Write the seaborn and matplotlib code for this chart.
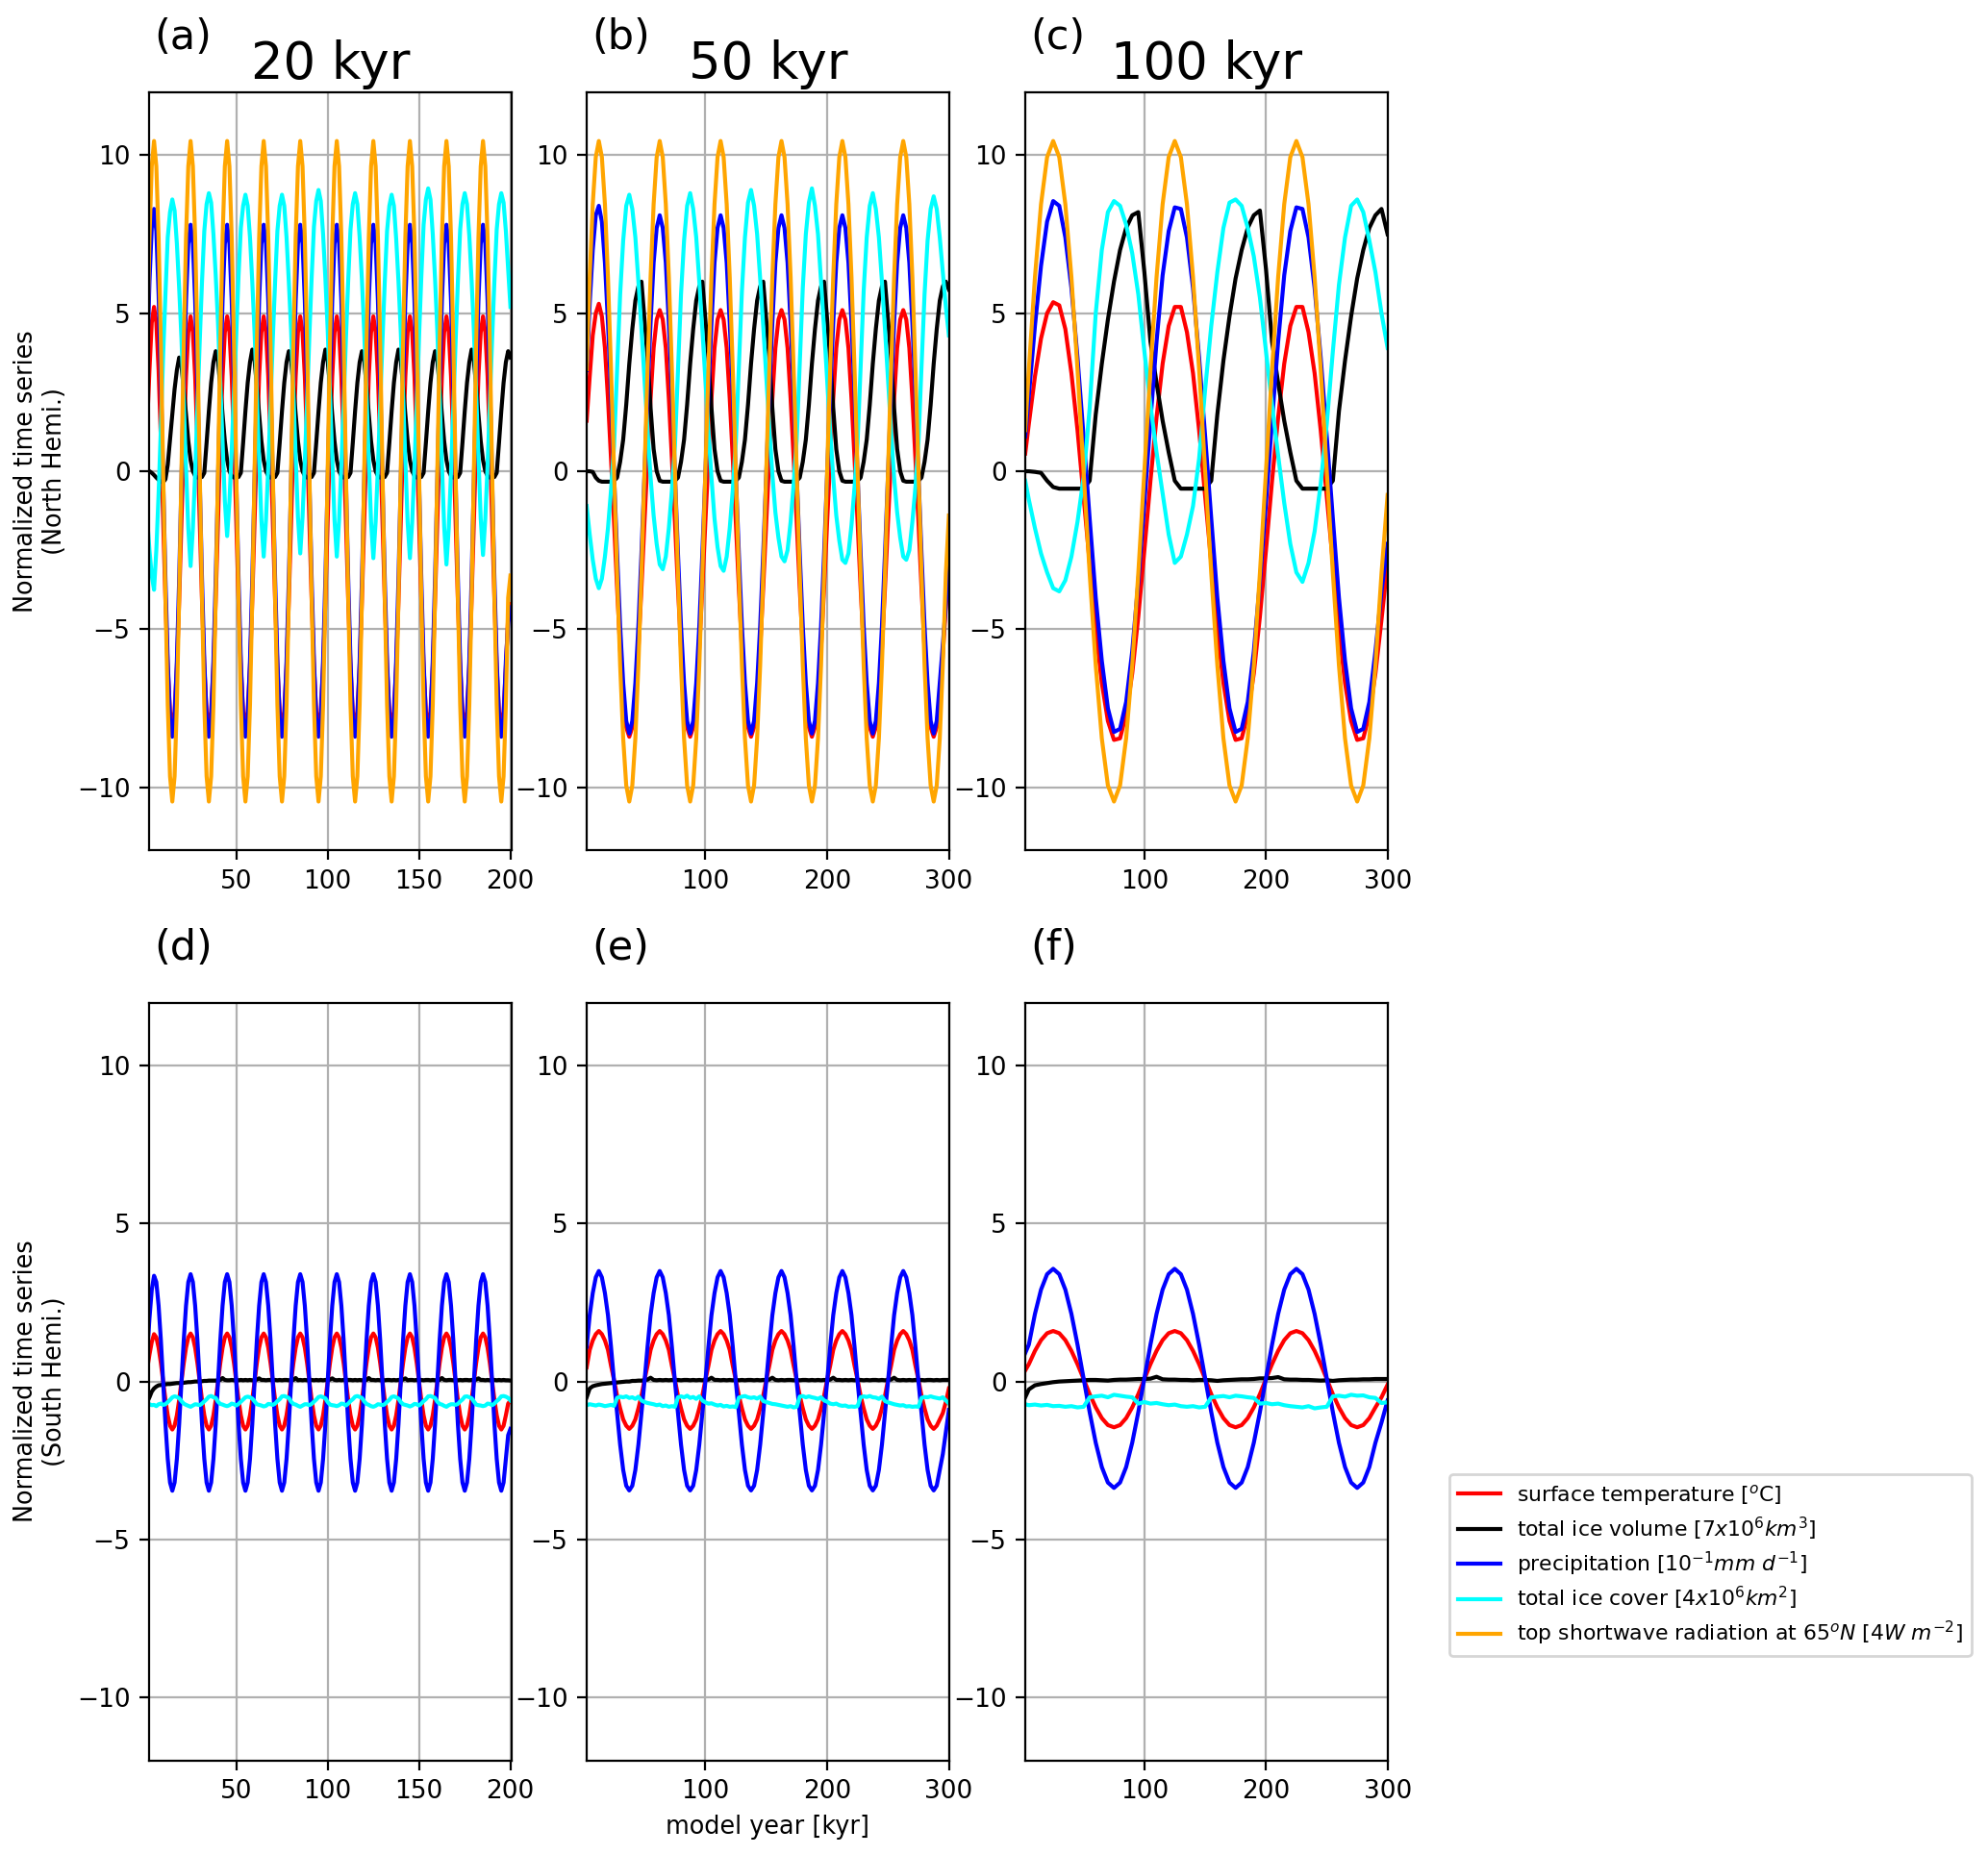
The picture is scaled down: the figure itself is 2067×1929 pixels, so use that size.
import numpy as np
import matplotlib
matplotlib.use("Agg")
import matplotlib.pyplot as plt
import seaborn as sns

# sampling grids of the model output [kyr]
X20 = np.arange(1.25, 200.01, 1.25)
X50 = np.arange(2.5, 300.01, 2.5)
X100 = np.concatenate([[2.0], np.arange(5.0, 300.01, 5.0)])

PERIODS = ["20 kyr", "50 kyr", "100 kyr"]
TAGS = ["(a)", "(b)", "(c)", "(d)", "(e)", "(f)"]
COLORS = ["red", "black", "blue", "cyan", "orange"]
LABELS = [
    r"surface temperature [$^o$C]",
    r"total ice volume [$7x10^6km^3$]",
    r"precipitation [$10^{-1}mm\ d^{-1}$]",
    r"total ice cover [$4x10^6km^2$]",
    r"top shortwave radiation at 65$^oN$ [$4W\ m^{-2}$]",
]

# ---------------- 20 kyr forcing ----------------
SW_20 = [
    4.0, 7.39, 9.65, 10.45, 9.65, 7.39, 4.0, 0.0, -4.0, -7.39, -9.65, -10.45, -9.65, -7.39, -4.0, 0.0,
    4.0, 7.39, 9.65, 10.45, 9.65, 7.39, 4.0, 0.0, -4.0, -7.39, -9.65, -10.45, -9.65, -7.39, -4.0, 0.0,
    4.0, 7.39, 9.65, 10.45, 9.65, 7.39, 4.0, 0.0, -4.0, -7.39, -9.65, -10.45, -9.65, -7.39, -4.0, 0.0,
    4.0, 7.39, 9.65, 10.45, 9.65, 7.39, 4.0, 0.0, -4.0, -7.39, -9.65, -10.45, -9.65, -7.39, -4.0, 0.0,
    4.0, 7.39, 9.65, 10.45, 9.65, 7.39, 4.0, 0.0, -4.0, -7.39, -9.65, -10.45, -9.65, -7.39, -4.0, 0.0,
    4.0, 7.39, 9.65, 10.45, 9.65, 7.39, 4.0, 0.0, -4.0, -7.39, -9.65, -10.45, -9.65, -7.39, -4.0, 0.0,
    4.0, 7.39, 9.65, 10.45, 9.65, 7.39, 4.0, 0.0, -4.0, -7.39, -9.65, -10.45, -9.65, -7.39, -4.0, 0.0,
    4.0, 7.39, 9.65, 10.45, 9.65, 7.39, 4.0, 0.0, -4.0, -7.39, -9.65, -10.45, -9.65, -7.39, -4.0, 0.0,
    4.0, 7.39, 9.65, 10.45, 9.65, 7.39, 4.0, 0.0, -4.0, -7.39, -9.65, -10.45, -9.65, -7.39, -4.0, 0.0,
    4.0, 7.39, 9.65, 10.45, 9.65, 7.39, 4.0, 0.0, -4.0, -7.39, -9.65, -10.45, -9.65, -7.39, -4.0, -3.3,
]
T_N20 = [
    1.5, 3.2, 4.7, 5.2, 4.7, 3.2, 1.0, -1.6, -4.1, -6.2, -7.6, -8.1, -7.6, -6.2, -4.1, -1.6,
    0.9, 3.0, 4.4, 4.9, 4.4, 3.0, 0.9, -1.6, -4.1, -6.2, -7.6, -8.1, -7.6, -6.2, -4.1, -1.6,
    0.9, 3.0, 4.4, 4.9, 4.4, 3.0, 0.9, -1.6, -4.1, -6.2, -7.6, -8.1, -7.6, -6.2, -4.1, -1.6,
    0.9, 3.0, 4.4, 4.9, 4.4, 3.0, 0.9, -1.6, -4.1, -6.2, -7.6, -8.1, -7.6, -6.2, -4.1, -1.6,
    0.9, 3.0, 4.4, 4.9, 4.4, 3.0, 0.9, -1.6, -4.1, -6.2, -7.6, -8.1, -7.6, -6.2, -4.1, -1.6,
    0.9, 3.0, 4.4, 4.9, 4.4, 3.0, 0.9, -1.6, -4.1, -6.2, -7.6, -8.1, -7.6, -6.2, -4.1, -1.6,
    0.9, 3.0, 4.4, 4.9, 4.4, 3.0, 0.9, -1.6, -4.1, -6.2, -7.6, -8.1, -7.6, -6.2, -4.1, -1.6,
    0.9, 3.0, 4.4, 4.9, 4.4, 3.0, 0.9, -1.6, -4.1, -6.2, -7.6, -8.1, -7.6, -6.2, -4.1, -1.6,
    0.9, 3.0, 4.4, 4.9, 4.4, 3.0, 0.9, -1.6, -4.1, -6.2, -7.6, -8.1, -7.6, -6.2, -4.1, -1.6,
    0.9, 3.0, 4.4, 4.9, 4.4, 3.0, 0.9, -1.6, -4.1, -6.2, -7.6, -8.1, -7.6, -6.2, -4.6, -4.2,
]
ICEV_N20 = [
    0.0, 0.0, -0.05, -0.12, -0.2, -0.27, -0.33, -0.35, -0.25, 0.2, 1.0, 1.8, 2.6, 3.2, 3.6, 3.35,
    2.6, 1.8, 0.95, 0.35, 0.0, -0.15, -0.2, -0.2, -0.18, -0.05, 0.9, 1.9, 2.8, 3.45, 3.8, 3.5,
    2.7, 1.8, 0.95, 0.35, 0.0, -0.15, -0.2, -0.2, -0.18, -0.05, 0.9, 1.9, 2.8, 3.45, 3.85, 3.5,
    2.7, 1.8, 0.95, 0.35, 0.0, -0.15, -0.2, -0.2, -0.18, -0.05, 0.9, 1.9, 2.8, 3.45, 3.8, 3.5,
    2.7, 1.8, 0.95, 0.35, 0.0, -0.15, -0.2, -0.2, -0.18, -0.05, 0.9, 1.9, 2.8, 3.45, 3.85, 3.5,
    2.7, 1.8, 0.95, 0.35, 0.0, -0.15, -0.2, -0.2, -0.18, -0.05, 0.9, 1.9, 2.8, 3.45, 3.8, 3.5,
    2.7, 1.8, 0.95, 0.35, 0.0, -0.15, -0.2, -0.2, -0.18, -0.05, 0.9, 1.9, 2.8, 3.45, 3.85, 3.5,
    2.7, 1.8, 0.95, 0.35, 0.0, -0.15, -0.2, -0.2, -0.18, -0.05, 0.9, 1.9, 2.8, 3.45, 3.8, 3.5,
    2.7, 1.8, 0.95, 0.35, 0.0, -0.15, -0.2, -0.2, -0.18, -0.05, 0.9, 1.9, 2.8, 3.45, 3.85, 3.5,
    2.7, 1.8, 0.95, 0.35, 0.0, -0.15, -0.2, -0.2, -0.18, -0.05, 0.9, 1.9, 2.8, 3.45, 3.8, 3.6,
]
PR_N20 = [
    3.5, 6.0, 7.7, 8.3, 7.6, 5.6, 2.9, -0.3, -3.4, -6.0, -7.8, -8.4, -7.8, -6.0, -3.4, -0.3,
    2.8, 5.4, 7.2, 7.8, 7.2, 5.4, 2.8, -0.3, -3.4, -6.0, -7.8, -8.4, -7.8, -6.0, -3.4, -0.3,
    2.8, 5.4, 7.2, 7.8, 7.2, 5.4, 2.8, -0.3, -3.4, -6.0, -7.8, -8.4, -7.8, -6.0, -3.4, -0.3,
    2.8, 5.4, 7.2, 7.8, 7.2, 5.4, 2.8, -0.3, -3.4, -6.0, -7.8, -8.4, -7.8, -6.0, -3.4, -0.3,
    2.8, 5.4, 7.2, 7.8, 7.2, 5.4, 2.8, -0.3, -3.4, -6.0, -7.8, -8.4, -7.8, -6.0, -3.4, -0.3,
    2.8, 5.4, 7.2, 7.8, 7.2, 5.4, 2.8, -0.3, -3.4, -6.0, -7.8, -8.4, -7.8, -6.0, -3.4, -0.3,
    2.8, 5.4, 7.2, 7.8, 7.2, 5.4, 2.8, -0.3, -3.4, -6.0, -7.8, -8.4, -7.8, -6.0, -3.4, -0.3,
    2.8, 5.4, 7.2, 7.8, 7.2, 5.4, 2.8, -0.3, -3.4, -6.0, -7.8, -8.4, -7.8, -6.0, -3.4, -0.3,
    2.8, 5.4, 7.2, 7.8, 7.2, 5.4, 2.8, -0.3, -3.4, -6.0, -7.8, -8.4, -7.8, -6.0, -3.4, -0.3,
    2.8, 5.4, 7.2, 7.8, 7.2, 5.4, 2.8, -0.3, -3.4, -6.0, -7.8, -8.4, -7.8, -6.0, -4.8, -4.3,
]
ICEC_N20 = [
    -1.5, -2.5, -3.3, -3.75, -2.5, -0.7, 1.4, 3.7, 5.6, 7.4, 8.2, 8.6, 8.25, 7.2, 5.8, 4.2,
    2.2, 0.1, -1.8, -3.0, -1.8, -0.05, 2.0, 4.1, 6.0, 7.6, 8.45, 8.8, 8.5, 7.5, 6.2, 4.7,
    2.8, 0.9, -0.95, -2.05, -0.95, 0.65, 2.5, 4.4, 6.2, 7.7, 8.4, 8.75, 8.4, 7.4, 6.0, 4.4,
    2.45, 0.4, -1.55, -2.7, -1.55, 0.15, 2.1, 4.2, 6.0, 7.6, 8.4, 8.75, 8.4, 7.4, 6.0, 4.45,
    2.5, 0.45, -1.45, -2.6, -1.45, 0.3, 2.2, 4.3, 6.15, 7.75, 8.55, 8.9, 8.55, 7.5, 6.1, 4.5,
    2.5, 0.45, -1.55, -2.7, -1.55, 0.2, 2.1, 4.2, 6.05, 7.65, 8.45, 8.8, 8.45, 7.4, 6.05, 4.4,
    2.45, 0.35, -1.6, -2.75, -1.6, 0.15, 2.1, 4.15, 6.0, 7.6, 8.4, 8.75, 8.4, 7.35, 6.0, 4.4,
    2.45, 0.35, -1.6, -2.75, -1.6, 0.2, 2.15, 4.25, 6.15, 7.8, 8.6, 8.95, 8.6, 7.5, 6.1, 4.45,
    2.4, 0.25, -1.75, -2.95, -1.8, 0.0, 2.0, 4.1, 6.0, 7.65, 8.45, 8.8, 8.45, 7.45, 6.05, 4.45,
    2.5, 0.45, -1.5, -2.65, -1.5, 0.2, 2.15, 4.2, 6.05, 7.65, 8.45, 8.8, 8.5, 7.6, 6.4, 5.2,
]
T_S20 = [
    0.4, 0.85, 1.25, 1.5, 1.4, 1.07, 0.58, 0.0, -0.58, -1.07, -1.4, -1.52, -1.4, -1.07, -0.58, 0.0,
    0.58, 1.07, 1.4, 1.52, 1.4, 1.07, 0.58, 0.0, -0.58, -1.07, -1.4, -1.52, -1.4, -1.07, -0.58, 0.0,
    0.58, 1.07, 1.4, 1.52, 1.4, 1.07, 0.58, 0.0, -0.58, -1.07, -1.4, -1.52, -1.4, -1.07, -0.58, 0.0,
    0.58, 1.07, 1.4, 1.52, 1.4, 1.07, 0.58, 0.0, -0.58, -1.07, -1.4, -1.52, -1.4, -1.07, -0.58, 0.0,
    0.58, 1.07, 1.4, 1.52, 1.4, 1.07, 0.58, 0.0, -0.58, -1.07, -1.4, -1.52, -1.4, -1.07, -0.58, 0.0,
    0.58, 1.07, 1.4, 1.52, 1.4, 1.07, 0.58, 0.0, -0.58, -1.07, -1.4, -1.52, -1.4, -1.07, -0.58, 0.0,
    0.58, 1.07, 1.4, 1.52, 1.4, 1.07, 0.58, 0.0, -0.58, -1.07, -1.4, -1.52, -1.4, -1.07, -0.58, 0.0,
    0.58, 1.07, 1.4, 1.52, 1.4, 1.07, 0.58, 0.0, -0.58, -1.07, -1.4, -1.52, -1.4, -1.07, -0.58, 0.0,
    0.58, 1.07, 1.4, 1.52, 1.4, 1.07, 0.58, 0.0, -0.58, -1.07, -1.4, -1.52, -1.4, -1.07, -0.58, 0.0,
    0.58, 1.07, 1.4, 1.52, 1.4, 1.07, 0.58, 0.0, -0.58, -1.07, -1.4, -1.52, -1.4, -1.07, -0.7, -0.6,
]
ICEV_S20 = [
    -0.65, -0.5, -0.32, -0.22, -0.16, -0.12, -0.11, -0.1, -0.09, -0.08, -0.08, -0.07, -0.06, -0.05, -0.05, -0.04,
    -0.04, -0.03, -0.02, -0.02, -0.01, 0.0, 0.0, 0.0, 0.01, 0.02, 0.02, 0.03, 0.03, 0.03, 0.03, 0.04,
    0.05, 0.11, 0.05, 0.04, 0.04, 0.05, 0.04, 0.05, 0.04, 0.05, 0.04, 0.05, 0.04, 0.05, 0.04, 0.04,
    0.06, 0.1, 0.05, 0.05, 0.04, 0.05, 0.05, 0.04, 0.05, 0.04, 0.05, 0.04, 0.05, 0.05, 0.04, 0.05,
    0.05, 0.11, 0.04, 0.05, 0.04, 0.05, 0.04, 0.05, 0.05, 0.04, 0.05, 0.04, 0.05, 0.04, 0.05, 0.04,
    0.06, 0.1, 0.05, 0.04, 0.05, 0.04, 0.05, 0.04, 0.05, 0.05, 0.04, 0.05, 0.04, 0.05, 0.04, 0.05,
    0.05, 0.11, 0.05, 0.05, 0.04, 0.05, 0.04, 0.05, 0.04, 0.05, 0.05, 0.04, 0.05, 0.04, 0.05, 0.04,
    0.06, 0.1, 0.04, 0.05, 0.05, 0.04, 0.05, 0.04, 0.05, 0.04, 0.05, 0.05, 0.04, 0.05, 0.04, 0.05,
    0.05, 0.11, 0.05, 0.04, 0.05, 0.05, 0.04, 0.05, 0.04, 0.05, 0.04, 0.05, 0.05, 0.04, 0.05, 0.04,
    0.06, 0.1, 0.05, 0.05, 0.04, 0.05, 0.04, 0.05, 0.05, 0.04, 0.05, 0.04, 0.05, 0.04, 0.04, 0.03,
]
PR_S20 = [
    0.9, 2.0, 2.9, 3.35, 3.15, 2.4, 1.3, 0.0, -1.35, -2.45, -3.2, -3.46, -3.2, -2.45, -1.35, 0.0,
    1.3, 2.4, 3.15, 3.4, 3.15, 2.4, 1.3, 0.0, -1.35, -2.45, -3.2, -3.46, -3.2, -2.45, -1.35, 0.0,
    1.3, 2.4, 3.15, 3.4, 3.15, 2.4, 1.3, 0.0, -1.35, -2.45, -3.2, -3.46, -3.2, -2.45, -1.35, 0.0,
    1.3, 2.4, 3.15, 3.4, 3.15, 2.4, 1.3, 0.0, -1.35, -2.45, -3.2, -3.46, -3.2, -2.45, -1.35, 0.0,
    1.3, 2.4, 3.15, 3.4, 3.15, 2.4, 1.3, 0.0, -1.35, -2.45, -3.2, -3.46, -3.2, -2.45, -1.35, 0.0,
    1.3, 2.4, 3.15, 3.4, 3.15, 2.4, 1.3, 0.0, -1.35, -2.45, -3.2, -3.46, -3.2, -2.45, -1.35, 0.0,
    1.3, 2.4, 3.15, 3.4, 3.15, 2.4, 1.3, 0.0, -1.35, -2.45, -3.2, -3.46, -3.2, -2.45, -1.35, 0.0,
    1.3, 2.4, 3.15, 3.4, 3.15, 2.4, 1.3, 0.0, -1.35, -2.45, -3.2, -3.46, -3.2, -2.45, -1.35, 0.0,
    1.3, 2.4, 3.15, 3.4, 3.15, 2.4, 1.3, 0.0, -1.35, -2.45, -3.2, -3.46, -3.2, -2.45, -1.35, 0.0,
    1.3, 2.4, 3.15, 3.4, 3.15, 2.4, 1.3, 0.0, -1.35, -2.45, -3.2, -3.46, -3.2, -2.45, -1.7, -1.5,
]
ICEC_S20 = [
    -0.7, -0.72, -0.75, -0.74, -0.78, -0.72, -0.7, -0.74, -0.72, -0.65, -0.58, -0.5, -0.47, -0.49, -0.53, -0.62,
    -0.7, -0.74, -0.77, -0.8, -0.76, -0.72, -0.73, -0.75, -0.7, -0.63, -0.56, -0.48, -0.46, -0.5, -0.52, -0.64,
    -0.71, -0.73, -0.76, -0.78, -0.75, -0.7, -0.72, -0.76, -0.71, -0.64, -0.57, -0.5, -0.48, -0.5, -0.54, -0.63,
    -0.72, -0.74, -0.76, -0.79, -0.77, -0.71, -0.72, -0.74, -0.7, -0.62, -0.56, -0.47, -0.46, -0.49, -0.52, -0.64,
    -0.71, -0.73, -0.77, -0.8, -0.76, -0.72, -0.72, -0.75, -0.71, -0.64, -0.57, -0.49, -0.47, -0.5, -0.53, -0.65,
    -0.73, -0.75, -0.76, -0.78, -0.75, -0.7, -0.71, -0.76, -0.7, -0.62, -0.56, -0.48, -0.46, -0.49, -0.52, -0.63,
    -0.71, -0.74, -0.78, -0.8, -0.77, -0.72, -0.73, -0.75, -0.72, -0.64, -0.58, -0.49, -0.47, -0.5, -0.54, -0.65,
    -0.72, -0.74, -0.76, -0.79, -0.76, -0.71, -0.72, -0.76, -0.7, -0.62, -0.56, -0.47, -0.46, -0.49, -0.52, -0.64,
    -0.71, -0.73, -0.77, -0.8, -0.75, -0.72, -0.72, -0.74, -0.71, -0.63, -0.57, -0.48, -0.47, -0.5, -0.53, -0.63,
    -0.73, -0.75, -0.76, -0.78, -0.76, -0.7, -0.71, -0.75, -0.7, -0.62, -0.56, -0.47, -0.46, -0.48, -0.52, -0.6,
]

# ---------------- 50 kyr forcing ----------------
SW_50 = [
    3.23, 6.14, 8.45, 9.94, 10.45, 9.94, 8.45, 6.14, 3.23, 0.0,
    -3.23, -6.14, -8.45, -9.94, -10.45, -9.94, -8.45, -6.14, -3.23, 0.0,
    3.23, 6.14, 8.45, 9.94, 10.45, 9.94, 8.45, 6.14, 3.23, 0.0,
    -3.23, -6.14, -8.45, -9.94, -10.45, -9.94, -8.45, -6.14, -3.23, 0.0,
    3.23, 6.14, 8.45, 9.94, 10.45, 9.94, 8.45, 6.14, 3.23, 0.0,
    -3.23, -6.14, -8.45, -9.94, -10.45, -9.94, -8.45, -6.14, -3.23, 0.0,
    3.23, 6.14, 8.45, 9.94, 10.45, 9.94, 8.45, 6.14, 3.23, 0.0,
    -3.23, -6.14, -8.45, -9.94, -10.45, -9.94, -8.45, -6.14, -3.23, 0.0,
    3.23, 6.14, 8.45, 9.94, 10.45, 9.94, 8.45, 6.14, 3.23, 0.0,
    -3.23, -6.14, -8.45, -9.94, -10.45, -9.94, -8.45, -6.14, -3.23, 0.0,
    3.23, 6.14, 8.45, 9.94, 10.45, 9.94, 8.45, 6.14, 3.23, 0.0,
    -3.23, -6.14, -8.45, -9.94, -10.45, -9.94, -8.45, -6.14, -3.23, -1.4,
]
T_N50 = [
    1.6, 3.0, 4.3, 5.0, 5.3, 4.9, 3.9, 2.3, 0.4, -1.6,
    -3.7, -5.6, -7.1, -8.1, -8.4, -8.1, -7.1, -5.6, -3.7, -1.6,
    0.4, 2.3, 3.9, 4.8, 5.1, 4.8, 3.9, 2.3, 0.4, -1.6,
    -3.7, -5.6, -7.1, -8.1, -8.4, -8.1, -7.1, -5.6, -3.7, -1.6,
    0.4, 2.3, 3.9, 4.8, 5.1, 4.8, 3.9, 2.3, 0.4, -1.6,
    -3.7, -5.6, -7.1, -8.1, -8.4, -8.1, -7.1, -5.6, -3.7, -1.6,
    0.4, 2.3, 3.9, 4.8, 5.1, 4.8, 3.9, 2.3, 0.4, -1.6,
    -3.7, -5.6, -7.1, -8.1, -8.4, -8.1, -7.1, -5.6, -3.7, -1.6,
    0.4, 2.3, 3.9, 4.8, 5.1, 4.8, 3.9, 2.3, 0.4, -1.6,
    -3.7, -5.6, -7.1, -8.1, -8.4, -8.1, -7.1, -5.6, -3.7, -1.6,
    0.4, 2.3, 3.9, 4.8, 5.1, 4.8, 3.9, 2.3, 0.4, -1.6,
    -3.7, -5.6, -7.1, -8.1, -8.4, -8.1, -7.1, -5.8, -4.3, -3.0,
]
ICEV_N50 = [
    0.0, 0.0, -0.02, -0.2, -0.3, -0.33, -0.33, -0.33, -0.33, -0.3,
    -0.2, 0.3, 1.0, 2.1, 3.4, 4.5, 5.4, 5.85, 6.0, 4.8,
    3.6, 2.0, 0.7, 0.0, -0.3, -0.33, -0.33, -0.33, -0.33, -0.3,
    -0.2, 0.3, 1.0, 2.1, 3.4, 4.5, 5.4, 5.85, 6.0, 4.8,
    3.6, 2.0, 0.7, 0.0, -0.3, -0.33, -0.33, -0.33, -0.33, -0.3,
    -0.2, 0.3, 1.0, 2.1, 3.4, 4.5, 5.4, 5.85, 6.0, 4.8,
    3.6, 2.0, 0.7, 0.0, -0.3, -0.33, -0.33, -0.33, -0.33, -0.3,
    -0.2, 0.3, 1.0, 2.1, 3.4, 4.5, 5.4, 5.85, 6.0, 4.8,
    3.6, 2.0, 0.7, 0.0, -0.3, -0.33, -0.33, -0.33, -0.33, -0.3,
    -0.2, 0.3, 1.0, 2.1, 3.4, 4.5, 5.4, 5.85, 6.0, 4.8,
    3.6, 2.0, 0.7, 0.0, -0.3, -0.33, -0.33, -0.33, -0.33, -0.3,
    -0.2, 0.3, 1.0, 2.1, 3.4, 4.5, 5.4, 5.85, 6.0, 5.75,
]
PR_N50 = [
    3.2, 5.3, 7.0, 8.1, 8.4, 7.9, 6.6, 4.7, 2.5, -0.1,
    -2.6, -4.9, -6.7, -7.9, -8.3, -7.9, -6.7, -4.9, -2.6, -0.1,
    2.5, 4.7, 6.6, 7.7, 8.1, 7.7, 6.6, 4.7, 2.5, -0.1,
    -2.6, -4.9, -6.7, -7.9, -8.3, -7.9, -6.7, -4.9, -2.6, -0.1,
    2.5, 4.7, 6.6, 7.7, 8.1, 7.7, 6.6, 4.7, 2.5, -0.1,
    -2.6, -4.9, -6.7, -7.9, -8.3, -7.9, -6.7, -4.9, -2.6, -0.1,
    2.5, 4.7, 6.6, 7.7, 8.1, 7.7, 6.6, 4.7, 2.5, -0.1,
    -2.6, -4.9, -6.7, -7.9, -8.3, -7.9, -6.7, -4.9, -2.6, -0.1,
    2.5, 4.7, 6.6, 7.7, 8.1, 7.7, 6.6, 4.7, 2.5, -0.1,
    -2.6, -4.9, -6.7, -7.9, -8.3, -7.9, -6.7, -4.9, -2.6, -0.1,
    2.5, 4.7, 6.6, 7.7, 8.1, 7.7, 6.6, 4.7, 2.5, -0.1,
    -2.6, -4.9, -6.7, -7.9, -8.3, -7.9, -6.7, -5.5, -4.2, -2.8,
]
ICEC_N50 = [
    -1.1, -2.0, -2.8, -3.4, -3.7, -3.4, -2.7, -1.8, -0.6, 0.8,
    3.2, 5.6, 7.3, 8.4, 8.75, 8.3, 7.4, 6.0, 4.5, 2.9,
    1.3, -0.2, -1.4, -2.3, -2.95, -3.1, -2.7, -1.8, -0.6, 0.8,
    3.2, 5.6, 7.3, 8.4, 8.8, 8.3, 7.4, 6.0, 4.5, 2.9,
    1.3, -0.2, -1.5, -2.4, -3.0, -3.15, -2.7, -1.8, -0.6, 0.9,
    3.3, 5.7, 7.4, 8.5, 8.9, 8.4, 7.5, 6.1, 4.6, 3.0,
    1.4, -0.1, -1.3, -2.1, -2.7, -2.85, -2.5, -1.6, -0.4, 1.0,
    3.4, 5.8, 7.5, 8.5, 8.95, 8.4, 7.5, 6.0, 4.5, 2.9,
    1.3, -0.2, -1.4, -2.2, -2.8, -2.9, -2.6, -1.7, -0.5, 0.9,
    3.3, 5.7, 7.4, 8.4, 8.8, 8.3, 7.4, 6.0, 4.5, 2.9,
    1.3, -0.2, -1.3, -2.1, -2.7, -2.8, -2.5, -1.6, -0.5, 0.9,
    3.3, 5.6, 7.3, 8.3, 8.7, 8.3, 7.4, 6.3, 5.2, 4.3,
]
T_S50 = [
    0.45, 1.0, 1.3, 1.5, 1.6, 1.5, 1.3, 1.0, 0.5, 0.05,
    -0.45, -0.85, -1.2, -1.4, -1.5, -1.4, -1.2, -0.85, -0.45, 0.05,
    0.5, 1.0, 1.3, 1.5, 1.6, 1.5, 1.3, 1.0, 0.5, 0.05,
    -0.45, -0.85, -1.2, -1.4, -1.5, -1.4, -1.2, -0.85, -0.45, 0.05,
    0.5, 1.0, 1.3, 1.5, 1.6, 1.5, 1.3, 1.0, 0.5, 0.05,
    -0.45, -0.85, -1.2, -1.4, -1.5, -1.4, -1.2, -0.85, -0.45, 0.05,
    0.5, 1.0, 1.3, 1.5, 1.6, 1.5, 1.3, 1.0, 0.5, 0.05,
    -0.45, -0.85, -1.2, -1.4, -1.5, -1.4, -1.2, -0.85, -0.45, 0.05,
    0.5, 1.0, 1.3, 1.5, 1.6, 1.5, 1.3, 1.0, 0.5, 0.05,
    -0.45, -0.85, -1.2, -1.4, -1.5, -1.4, -1.2, -0.85, -0.45, 0.05,
    0.5, 1.0, 1.3, 1.5, 1.6, 1.5, 1.3, 1.0, 0.5, 0.05,
    -0.45, -0.85, -1.2, -1.4, -1.5, -1.4, -1.2, -1.0, -0.65, -0.22,
]
ICEV_S50 = [
    -0.5, -0.22, -0.15, -0.12, -0.1, -0.08, -0.07, -0.06, -0.05, -0.04,
    -0.03, -0.02, -0.01, 0.0, 0.0, 0.02, 0.02, 0.03, 0.03, 0.04,
    0.06, 0.12, 0.05, 0.04, 0.05, 0.04, 0.05, 0.04, 0.05, 0.04,
    0.05, 0.04, 0.05, 0.05, 0.04, 0.05, 0.04, 0.05, 0.04, 0.05,
    0.06, 0.12, 0.05, 0.05, 0.04, 0.05, 0.04, 0.05, 0.04, 0.05,
    0.04, 0.05, 0.04, 0.05, 0.05, 0.04, 0.05, 0.04, 0.05, 0.05,
    0.06, 0.12, 0.05, 0.04, 0.05, 0.04, 0.05, 0.05, 0.04, 0.05,
    0.04, 0.05, 0.05, 0.04, 0.05, 0.04, 0.05, 0.04, 0.05, 0.04,
    0.06, 0.12, 0.05, 0.05, 0.04, 0.05, 0.04, 0.05, 0.04, 0.05,
    0.05, 0.04, 0.05, 0.04, 0.05, 0.05, 0.04, 0.05, 0.04, 0.05,
    0.06, 0.12, 0.05, 0.04, 0.05, 0.04, 0.05, 0.04, 0.05, 0.04,
    0.05, 0.04, 0.05, 0.05, 0.04, 0.05, 0.04, 0.05, 0.05, 0.05,
]
PR_S50 = [
    1.1, 2.1, 2.8, 3.3, 3.5, 3.3, 2.8, 2.1, 1.1, 0.0,
    -1.0, -2.0, -2.8, -3.3, -3.45, -3.3, -2.8, -2.0, -1.0, 0.0,
    1.1, 2.1, 2.8, 3.3, 3.5, 3.3, 2.8, 2.1, 1.1, 0.0,
    -1.0, -2.0, -2.8, -3.3, -3.45, -3.3, -2.8, -2.0, -1.0, 0.0,
    1.1, 2.1, 2.8, 3.3, 3.5, 3.3, 2.8, 2.1, 1.1, 0.0,
    -1.0, -2.0, -2.8, -3.3, -3.45, -3.3, -2.8, -2.0, -1.0, 0.0,
    1.1, 2.1, 2.8, 3.3, 3.5, 3.3, 2.8, 2.1, 1.1, 0.0,
    -1.0, -2.0, -2.8, -3.3, -3.45, -3.3, -2.8, -2.0, -1.0, 0.0,
    1.1, 2.1, 2.8, 3.3, 3.5, 3.3, 2.8, 2.1, 1.1, 0.0,
    -1.0, -2.0, -2.8, -3.3, -3.45, -3.3, -2.8, -2.0, -1.0, 0.0,
    1.1, 2.1, 2.8, 3.3, 3.5, 3.3, 2.8, 2.1, 1.1, 0.0,
    -1.0, -2.0, -2.8, -3.3, -3.45, -3.3, -2.8, -2.3, -1.6, -0.9,
]
ICEC_S50 = [
    -0.75, -0.72, -0.74, -0.76, -0.73, -0.75, -0.78, -0.76, -0.74, -0.77,
    -0.52, -0.48, -0.5, -0.47, -0.52, -0.5, -0.55, -0.48, -0.6, -0.65,
    -0.68, -0.7, -0.72, -0.75, -0.73, -0.78, -0.76, -0.8, -0.78, -0.8,
    -0.5, -0.47, -0.5, -0.45, -0.52, -0.49, -0.55, -0.47, -0.6, -0.66,
    -0.7, -0.69, -0.73, -0.76, -0.74, -0.79, -0.77, -0.8, -0.79, -0.81,
    -0.51, -0.48, -0.46, -0.5, -0.52, -0.5, -0.54, -0.48, -0.62, -0.65,
    -0.68, -0.71, -0.72, -0.74, -0.76, -0.78, -0.8, -0.78, -0.82, -0.8,
    -0.48, -0.46, -0.5, -0.47, -0.5, -0.52, -0.55, -0.5, -0.6, -0.64,
    -0.7, -0.72, -0.7, -0.75, -0.77, -0.76, -0.8, -0.79, -0.8, -0.78,
    -0.5, -0.47, -0.49, -0.46, -0.5, -0.51, -0.55, -0.48, -0.62, -0.66,
    -0.69, -0.72, -0.74, -0.76, -0.75, -0.79, -0.78, -0.8, -0.79, -0.8,
    -0.52, -0.49, -0.5, -0.47, -0.5, -0.52, -0.54, -0.5, -0.6, -0.7,
]

# ---------------- 100 kyr forcing ----------------
SW_100 = [
    1.3,
    3.23, 6.14, 8.45, 9.94, 10.45, 9.94, 8.45, 6.14, 3.23, 0.0,
    -3.23, -6.14, -8.45, -9.94, -10.45, -9.94, -8.45, -6.14, -3.23, 0.0,
    3.23, 6.14, 8.45, 9.94, 10.45, 9.94, 8.45, 6.14, 3.23, 0.0,
    -3.23, -6.14, -8.45, -9.94, -10.45, -9.94, -8.45, -6.14, -3.23, 0.0,
    3.23, 6.14, 8.45, 9.94, 10.45, 9.94, 8.45, 6.14, 3.23, 0.0,
    -3.23, -6.14, -8.45, -9.94, -10.45, -9.94, -8.45, -6.14, -3.23, -0.75,
]
T_N100 = [
    0.56,
    1.5, 3.0, 4.2, 5.0, 5.35, 5.25, 4.5, 3.1, 1.3, -0.8,
    -2.9, -5.0, -6.7, -7.9, -8.5, -8.45, -7.7, -6.4, -4.6, -2.5,
    -0.3, 1.7, 3.4, 4.6, 5.2, 5.2, 4.4, 3.1, 1.3, -0.8,
    -2.9, -5.0, -6.7, -7.9, -8.5, -8.45, -7.7, -6.4, -4.6, -2.5,
    -0.3, 1.7, 3.4, 4.6, 5.2, 5.2, 4.4, 3.1, 1.3, -0.8,
    -2.9, -5.0, -6.7, -7.9, -8.5, -8.45, -7.7, -6.4, -4.7, -2.9,
]
ICEV_N100 = [
    0.0,
    0.0, -0.02, -0.05, -0.3, -0.5, -0.55, -0.55, -0.55, -0.55, -0.55,
    -0.3, 1.8, 3.4, 4.8, 6.0, 7.0, 7.7, 8.1, 8.2, 6.3,
    4.1, 2.8, 1.6, 0.6, -0.3, -0.55, -0.55, -0.55, -0.55, -0.55,
    -0.3, 1.8, 3.5, 4.9, 6.1, 7.0, 7.7, 8.1, 8.25, 6.4,
    4.1, 2.8, 1.6, 0.6, -0.3, -0.55, -0.55, -0.55, -0.55, -0.55,
    -0.3, 1.9, 3.5, 4.9, 6.1, 7.0, 7.7, 8.1, 8.3, 7.5,
]
PR_N100 = [
    1.1,
    2.4, 4.6, 6.5, 7.9, 8.55, 8.4, 7.4, 5.8, 3.6, 1.1,
    -1.5, -4.0, -6.0, -7.5, -8.25, -8.15, -7.3, -5.7, -3.5, -1.0,
    1.6, 4.1, 6.2, 7.6, 8.35, 8.3, 7.4, 5.8, 3.6, 1.1,
    -1.5, -4.0, -6.0, -7.5, -8.25, -8.15, -7.3, -5.7, -3.5, -1.0,
    1.6, 4.1, 6.2, 7.6, 8.35, 8.3, 7.4, 5.8, 3.6, 1.1,
    -1.5, -4.0, -6.0, -7.5, -8.25, -8.15, -7.3, -5.7, -3.8, -2.3,
]
ICEC_N100 = [
    -0.3,
    -0.9, -1.8, -2.6, -3.2, -3.7, -3.8, -3.45, -2.7, -1.6, -0.2,
    2.0, 5.0, 7.0, 8.2, 8.55, 8.4, 7.8, 6.9, 5.6, 3.8,
    2.1, 0.6, -0.7, -2.0, -2.9, -2.7, -2.0, -1.1, 0.4, 2.6,
    4.6, 6.3, 7.7, 8.5, 8.6, 8.4, 7.7, 6.8, 5.5, 3.8,
    2.1, 0.5, -1.0, -2.3, -3.2, -3.5, -2.9, -1.9, -0.4, 1.5,
    3.8, 5.9, 7.4, 8.4, 8.6, 8.2, 7.3, 6.3, 5.0, 3.9,
]
T_S100 = [
    0.35,
    0.55, 0.97, 1.31, 1.53, 1.6, 1.53, 1.31, 0.97, 0.55, 0.08,
    -0.4, -0.82, -1.16, -1.38, -1.45, -1.38, -1.16, -0.82, -0.4, 0.08,
    0.55, 0.97, 1.31, 1.53, 1.6, 1.53, 1.31, 0.97, 0.55, 0.08,
    -0.4, -0.82, -1.16, -1.38, -1.45, -1.38, -1.16, -0.82, -0.4, 0.08,
    0.55, 0.97, 1.31, 1.53, 1.6, 1.53, 1.31, 0.97, 0.55, 0.08,
    -0.4, -0.82, -1.16, -1.38, -1.45, -1.38, -1.16, -0.82, -0.5, -0.1,
]
ICEV_S100 = [
    -0.5,
    -0.25, -0.12, -0.08, -0.05, -0.02, 0.0, 0.01, 0.02, 0.03, 0.04,
    0.05, 0.05, 0.04, 0.03, 0.05, 0.06, 0.06, 0.07, 0.08, 0.08,
    0.09, 0.15, 0.07, 0.06, 0.06, 0.05, 0.05, 0.04, 0.05, 0.05,
    0.04, 0.02, 0.04, 0.05, 0.06, 0.07, 0.07, 0.08, 0.1, 0.1,
    0.11, 0.14, 0.07, 0.06, 0.06, 0.05, 0.05, 0.04, 0.03, 0.04,
    0.02, 0.04, 0.05, 0.06, 0.06, 0.07, 0.07, 0.08, 0.08, 0.08,
]
PR_S100 = [
    0.9,
    1.17, 2.14, 2.91, 3.4, 3.57, 3.4, 2.91, 2.14, 1.17, 0.1,
    -0.97, -1.94, -2.71, -3.2, -3.37, -3.2, -2.71, -1.94, -0.97, 0.1,
    1.17, 2.14, 2.91, 3.4, 3.57, 3.4, 2.91, 2.14, 1.17, 0.1,
    -0.97, -1.94, -2.71, -3.2, -3.37, -3.2, -2.71, -1.94, -0.97, 0.1,
    1.17, 2.14, 2.91, 3.4, 3.57, 3.4, 2.91, 2.14, 1.17, 0.1,
    -0.97, -1.94, -2.71, -3.2, -3.37, -3.2, -2.71, -1.94, -1.3, -0.6,
]
ICEC_S100 = [
    -0.72,
    -0.75, -0.73, -0.76, -0.74, -0.78, -0.77, -0.8, -0.78, -0.82, -0.8,
    -0.5, -0.47, -0.45, -0.5, -0.42, -0.45, -0.48, -0.5, -0.7, -0.65,
    -0.7, -0.68, -0.72, -0.75, -0.73, -0.78, -0.8, -0.78, -0.82, -0.8,
    -0.5, -0.48, -0.46, -0.5, -0.45, -0.47, -0.5, -0.52, -0.7, -0.68,
    -0.72, -0.7, -0.75, -0.78, -0.8, -0.82, -0.78, -0.85, -0.82, -0.8,
    -0.47, -0.45, -0.48, -0.42, -0.45, -0.44, -0.5, -0.52, -0.68, -0.66,
]


def draw_panel(ax, x, series, xlim, xticks):
    for y, color in zip(series, COLORS):
        sns.lineplot(x=x, y=np.asarray(y), color=color, linewidth=1.5,
                     estimator=None, sort=False, ax=ax)
    ax.set_xlim(*xlim)
    ax.set_ylim(-12, 12)
    ax.set_xticks(xticks)
    ax.set_yticks([-10, -5, 0, 5, 10])
    ax.grid(True, color="#b0b0b0", linewidth=0.8)
    ax.tick_params(labelsize=9.5)
    ax.set_xlabel("")
    ax.set_ylabel("")


def main():
    fig = plt.figure(figsize=(10.335, 9.645), dpi=200)

    lefts = [0.0750, 0.2951, 0.5157]
    width = 0.1824
    rows = [(0.5415, 0.4089), (0.0510, 0.4085)]

    grids = [X20, X50, X100]
    xlims = [(2.3, 200.7), (2.5, 300.3), (2.0, 300.2)]
    xticks = [[50, 100, 150, 200], [100, 200, 300], [100, 200, 300]]
    north = [
        [T_N20, ICEV_N20, PR_N20, ICEC_N20, SW_20],
        [T_N50, ICEV_N50, PR_N50, ICEC_N50, SW_50],
        [T_N100, ICEV_N100, PR_N100, ICEC_N100, SW_100],
    ]
    south = [
        [T_S20, ICEV_S20, PR_S20, ICEC_S20],
        [T_S50, ICEV_S50, PR_S50, ICEC_S50],
        [T_S100, ICEV_S100, PR_S100, ICEC_S100],
    ]

    axes = []
    for r, (bottom, height) in enumerate(rows):
        for c in range(3):
            ax = fig.add_axes([lefts[c], bottom, width, height])
            data = north[c] if r == 0 else south[c]
            draw_panel(ax, grids[c], data, xlims[c], xticks[c])
            ax.text(0.013, 1.057, TAGS[3 * r + c], transform=ax.transAxes,
                    fontsize=15.5, va="baseline", ha="left")
            if r == 0:
                ax.set_title(PERIODS[c], fontsize=19, pad=5)
            axes.append(ax)

    axes[0].set_ylabel("Normalized time series\n(North Hemi.)",
                       fontsize=9.2, labelpad=3.5)
    axes[3].set_ylabel("Normalized time series\n(South Hemi.)",
                       fontsize=9.2, labelpad=3.5)
    axes[4].set_xlabel("model year [kyr]", fontsize=9.2)

    handles = axes[0].get_lines()
    fig.legend(handles, LABELS, loc="upper left",
               bbox_to_anchor=(0.729, 0.2053), borderaxespad=0,
               fontsize=7.9, labelspacing=0.35, frameon=True)

    fig.savefig("out.png", dpi=200)
    plt.close(fig)


if __name__ == "__main__":
    main()
